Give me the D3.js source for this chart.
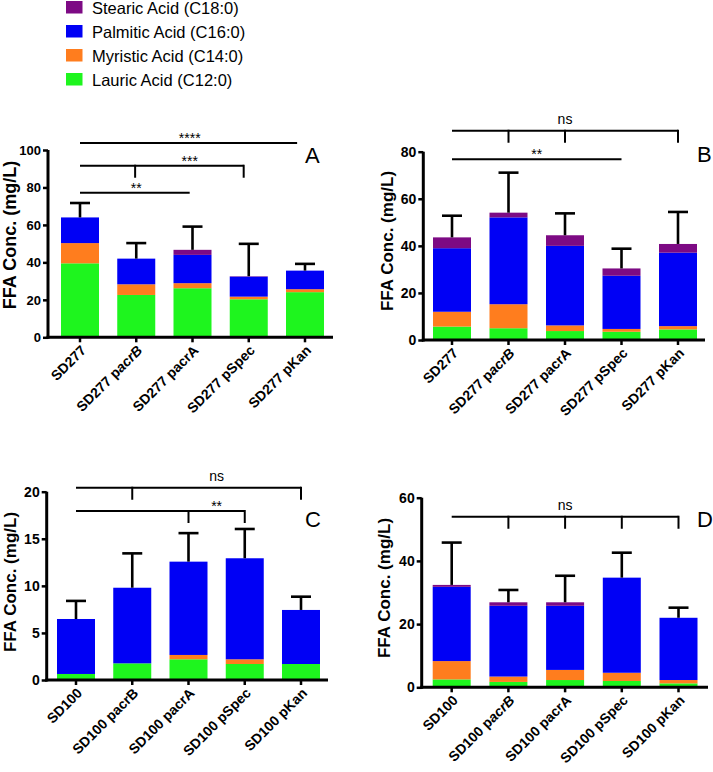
<!DOCTYPE html>
<html><head><meta charset="utf-8">
<script src="https://cdn.jsdelivr.net/npm/d3@7"></script>
<style>
body{margin:0;background:#fff}
svg{display:block}
text{font-family:"Liberation Sans",Arial,Helvetica,sans-serif}
</style>
</head><body>
<svg id="chart" width="713" height="772"></svg>
<script>
// ---------- data ----------
const acids = ["Lauric Acid (C12:0)", "Myristic Acid (C14:0)", "Palmitic Acid (C16:0)", "Stearic Acid (C18:0)"];
const acidColors = ["#1ef51e", "#ff7d1e", "#0000f5", "#7d0a84"];

const strainsA = ["SD277", "SD277 pacrB", "SD277 pacrA", "SD277 pSpec", "SD277 pKan"];
const strainsC = ["SD100", "SD100 pacrB", "SD100 pacrA", "SD100 pSpec", "SD100 pKan"];

// Panel A
const lauricA   = [39.5, 22.6, 26.2, 20.3, 24.1];
const myristicA = [10.8, 5.7, 2.7, 1.4, 1.6];
const palmiticA = [13.7, 13.7, 15.1, 10.7, 9.9];
const stearicA  = [0, 0, 2.7, 0.2, 0];
const sdA       = [7.7, 8.3, 12.4, 17.3, 3.6];
const ticksA    = [0, 20, 40, 60, 80, 100];

// Panel B
const lauricB   = [5.7, 5.0, 3.8, 3.5, 4.5];
const myristicB = [6.3, 10.2, 2.4, 1.2, 1.4];
const palmiticB = [27.0, 36.9, 33.8, 22.6, 31.2];
const stearicB  = [4.6, 2.0, 4.5, 3.1, 3.7];
const sdB       = [9.2, 17.0, 9.3, 8.4, 13.6];
const ticksB    = [0, 20, 40, 60, 80];

// Panel C
const lauricC   = [0.64, 1.77, 2.2, 1.7, 1.7];
const myristicC = [0, 0, 0.46, 0.5, 0];
const palmiticC = [5.84, 8.03, 9.91, 10.73, 5.74];
const stearicC  = [0, 0, 0, 0, 0];
const sdC       = [1.92, 3.65, 3.03, 3.11, 1.41];
const ticksC    = [0, 5, 10, 15, 20];

// Panel D
const lauricD   = [2.5, 1.7, 2.3, 2.0, 1.25];
const myristicD = [5.8, 1.7, 3.2, 2.6, 1.05];
const palmiticD = [23.5, 22.4, 20.3, 30.1, 19.7];
const stearicD  = [0.6, 1.1, 1.1, 0, 0];
const sdD       = [13.4, 3.9, 8.4, 7.9, 3.2];
const ticksD    = [0, 20, 40, 60];

// significance annotations (positions in category index / data units)
const bracketsA = [
  {from: 0, to: 1.95, level: 77.2, drops: [], label: "**", at: 1},
  {from: 0, to: 2.91, level: 91.6, drops: [0.98, 2.91], label: "***", at: 1.95},
  {from: 0, to: 3.86, level: 103.7, drops: [], label: "****", at: 1.95}
];
const bracketsB = [
  {from: 0, to: 4, level: 88.9, drops: [1, 2, 4], label: "ns", at: 2},
  {from: 0, to: 3, level: 76.8, drops: [], label: "**", at: 1.5}
];
const bracketsC = [
  {from: 0, to: 4, level: 20.42, drops: [1, 4], label: "ns", at: 2.5},
  {from: 0, to: 3, level: 17.95, drops: [2, 3], label: "**", at: 2.5}
];
const bracketsD = [
  {from: 0, to: 4, level: 53.97, drops: [1, 2, 3, 4], label: "ns", at: 2}
];

// ---------- layout ----------
const panels = [
  {cats: strainsA, series: [lauricA, myristicA, palmiticA, stearicA], sd: sdA, ticks: ticksA, brackets: bracketsA,
   letter: "A", italic: true, axisX: 48, axisEnd: 333, c0: 80, c1: 305, yTop: 150, yBot: 337.3,
   tickFont: 13, titleFont: 18, titleX: 16, titleY: 235, letterX: 305, letterY: 163},
  {cats: strainsA, series: [lauricB, myristicB, palmiticB, stearicB], sd: sdB, ticks: ticksB, brackets: bracketsB,
   letter: "B", italic: true, axisX: 423.3, axisEnd: 705, c0: 452, c1: 678, yTop: 151.7, yBot: 340,
   tickFont: 14, titleFont: 17, titleX: 393, titleY: 241, letterX: 697, letterY: 162},
  {cats: strainsC, series: [lauricC, myristicC, palmiticC, stearicC], sd: sdC, ticks: ticksC, brackets: bracketsC,
   letter: "C", italic: false, axisX: 46.7, axisEnd: 328, c0: 76, c1: 301, yTop: 491.7, yBot: 680,
   tickFont: 14, titleFont: 17, titleX: 16, titleY: 582, letterX: 305, letterY: 527},
  {cats: strainsC, series: [lauricD, myristicD, palmiticD, stearicD], sd: sdD, ticks: ticksD, brackets: bracketsD,
   letter: "D", italic: true, axisX: 421.7, axisEnd: 708, c0: 451.7, c1: 678.5, yTop: 497.7, yBot: 687.3,
   tickFont: 14, titleFont: 17, titleX: 390, titleY: 588, letterX: 697, letterY: 527}
];

const svg = d3.select("#chart");
const BAR_W = 38;

panels.forEach(p => {
  const g = svg.append("g");
  const n = p.cats.length;
  const step = (p.c1 - p.c0) / (n - 1);
  const pi = 1 - BAR_W / step;
  const x = d3.scaleBand().domain(p.cats)
    .range([p.c0 - step / 2, p.c1 + step / 2])
    .paddingInner(pi).paddingOuter(pi / 2);
  const y = d3.scaleLinear().domain([0, d3.max(p.ticks)]).range([p.yBot, p.yTop]);
  const xi = i => p.c0 + i * step;

  // stacked bars
  const rows = p.cats.map((c, i) => {
    const r = {cat: c};
    acids.forEach((a, k) => r[a] = p.series[k][i]);
    return r;
  });
  const stack = d3.stack().keys(acids)(rows);
  stack.forEach((layer, k) => {
    g.append("g").selectAll("rect").data(layer).join("rect")
      .attr("x", d => x(d.data.cat))
      .attr("width", x.bandwidth())
      .attr("y", d => y(d[1]))
      .attr("height", d => Math.max(0, y(d[0]) - y(d[1])))
      .attr("fill", acidColors[k]);
  });

  // error bars (upper only)
  const totals = rows.map((r, i) => d3.sum(p.series, s => s[i]));
  const eb = g.append("g").attr("stroke", "#000").attr("stroke-width", 2.6).attr("fill", "none");
  p.cats.forEach((c, i) => {
    const cx = x(c) + x.bandwidth() / 2;
    eb.append("line").attr("x1", cx).attr("x2", cx).attr("y1", y(totals[i])).attr("y2", y(totals[i] + p.sd[i]));
    eb.append("line").attr("x1", cx - 10).attr("x2", cx + 10).attr("y1", y(totals[i] + p.sd[i])).attr("y2", y(totals[i] + p.sd[i]));
  });

  // y axis
  const ya = g.append("g").attr("transform", `translate(${p.axisX},0)`)
    .call(d3.axisLeft(y).tickValues(p.ticks).tickSize(5).tickSizeOuter(0).tickPadding(2).tickFormat(d3.format("d")));
  ya.select(".domain").attr("stroke-width", 3).attr("d", `M0,${p.yBot + 1.5}V${p.yTop}`);
  ya.selectAll(".tick line").attr("stroke-width", 2.5);
  ya.selectAll(".tick text").attr("font-size", p.tickFont).attr("font-weight", "bold").attr("fill", "#000")
    .attr("font-family", "'Liberation Sans',Arial,sans-serif");

  // x axis
  const xa = g.append("g").attr("transform", `translate(0,${p.yBot})`)
    .call(d3.axisBottom(x).tickSize(5).tickSizeOuter(0).tickFormat(""));
  xa.select(".domain").remove();
  xa.selectAll(".tick line").attr("stroke-width", 2.5);
  g.append("line").attr("x1", p.axisX - 1.5).attr("x2", p.axisEnd).attr("y1", p.yBot).attr("y2", p.yBot)
    .attr("stroke", "#000").attr("stroke-width", 3);

  // rotated category labels
  p.cats.forEach((c, i) => {
    const cx = x(c) + x.bandwidth() / 2 + 7;
    const cy = p.yBot + 14;
    const t = g.append("text")
      .attr("transform", `translate(${cx},${cy}) rotate(-45)`)
      .attr("text-anchor", "end").attr("font-size", 14).attr("font-weight", "bold");
    const parts = c.split(" ");
    if (parts.length === 1) { t.text(c); return; }
    t.append("tspan").text(parts[0] + " ");
    const suf = parts[1];
    if (p.italic && suf === "pacrB") {
      t.append("tspan").text("p");
      t.append("tspan").attr("font-style", "italic").text("acrB");
    } else {
      t.append("tspan").text(suf);
    }
  });

  // y title
  g.append("text")
    .attr("transform", `translate(${p.titleX},${p.titleY}) rotate(-90)`)
    .attr("text-anchor", "middle").attr("font-size", p.titleFont).attr("font-weight", "bold")
    .text("FFA Conc. (mg/L)");

  // panel letter
  g.append("text").attr("x", p.letterX).attr("y", p.letterY).attr("font-size", 22).text(p.letter);

  // significance brackets
  const bg = g.append("g");
  p.brackets.forEach(b => {
    const ly = y(b.level);
    bg.append("line").attr("x1", xi(b.from)).attr("x2", xi(b.to)).attr("y1", ly).attr("y2", ly)
      .attr("stroke", "#000").attr("stroke-width", 2);
    b.drops.forEach(d => {
      bg.append("line").attr("x1", xi(d)).attr("x2", xi(d)).attr("y1", ly - 1).attr("y2", ly + 12)
        .attr("stroke", "#000").attr("stroke-width", 2);
    });
    const isNs = b.label === "ns";
    bg.append("text").attr("x", xi(b.at)).attr("y", isNs ? ly - 7 : ly)
      .attr("text-anchor", "middle").attr("font-size", 14).text(b.label);
  });
});

// legend (top to bottom: Stearic, Palmitic, Myristic, Lauric)
const legendOrder = [3, 2, 1, 0];
const lg = svg.append("g");
legendOrder.forEach((k, j) => {
  const base = 14 + j * 24;
  lg.append("rect").attr("x", 66).attr("y", base - 13).attr("width", 16.5).attr("height", 12.5).attr("fill", acidColors[k]);
  lg.append("text").attr("x", 92).attr("y", base).attr("font-size", 16.5).text(acids[k]);
});
</script>
</body></html>
